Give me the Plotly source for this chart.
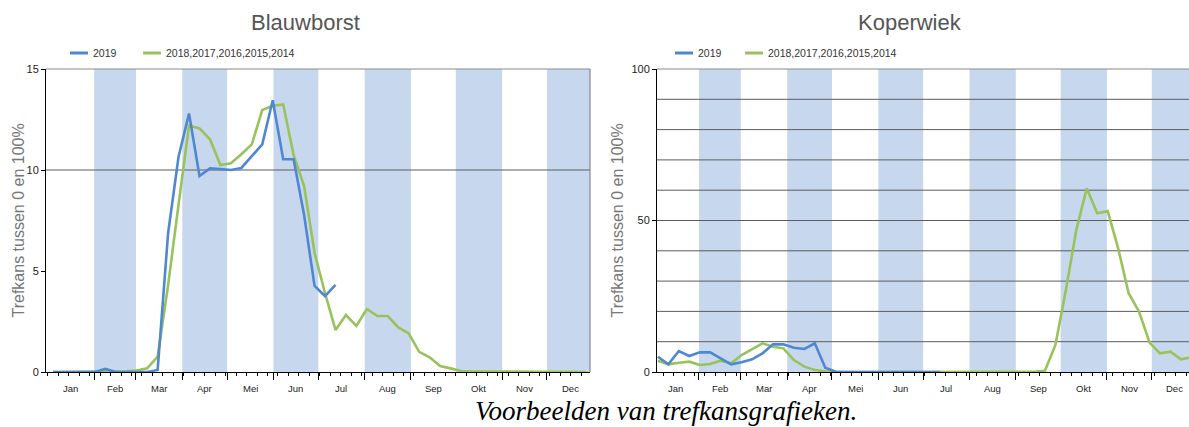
import plotly.graph_objects as go

# ---------------- data ----------------
weeks = list(range(1, 53))  # week numbers
months = ["Jan", "Feb", "Mar", "Apr", "Mei", "Jun", "Jul", "Aug", "Sep", "Okt", "Nov", "Dec"]
month_days = [31, 28, 31, 30, 31, 30, 31, 31, 30, 31, 30, 31]

series_names = ["2019", "2018,2017,2016,2015,2014"]

blauwborst_2019 = [0, 0, 0, 0, 0, 0.15, 0, 0, 0, 0, 0.1, 6.87, 10.66, 12.8, 9.7, 10.08, 10.05,
                   10.0, 10.1, 10.66, 11.27, 13.45, 10.53, 10.53, 7.77, 4.26, 3.76, 4.31]
blauwborst_prev = [0, 0, 0, 0, 0, 0.02, 0.03, 0.03, 0.07, 0.18, 0.76, 4.3, 8.3, 12.2, 12.06, 11.52,
                   10.25, 10.33, 10.78, 11.27, 12.97, 13.18, 13.25, 10.74, 9.2, 5.9, 3.9, 2.08, 2.82,
                   2.28, 3.12, 2.77, 2.77, 2.21, 1.91, 1.0, 0.73, 0.3, 0.18, 0.05, 0.03, 0.03, 0.03,
                   0.02, 0, 0, 0, 0, 0, 0, 0, 0]

koperwiek_2019 = [5.05, 2.54, 6.93, 5.28, 6.49, 6.49, 4.51, 2.54, 3.2, 4.18, 6.16, 9.13, 9.13, 8.03,
                  7.59, 9.46, 1.43, 0.1, 0, 0, 0, 0, 0, 0, 0, 0, 0, 0]
koperwiek_prev = [3.74, 2.54, 3.08, 3.41, 2.31, 2.64, 3.74, 2.86, 5.61, 7.48, 9.46, 8.36, 7.81, 3.96,
                  1.76, 0.66, 0.2, 0.05, 0, 0, 0, 0, 0, 0, 0, 0, 0, 0, 0, 0, 0, 0, 0, 0, 0, 0,
                  0.1, 0.43, 8.91, 27.0, 46.9, 60.6, 52.4, 53.1, 40.8, 26.0, 19.9, 9.68, 6.16,
                  6.71, 4.18, 4.84]

titles = ["Blauwborst", "Koperwiek"]
y_title = "Trefkans tussen 0 en 100%"
caption = "Voorbeelden van trefkansgrafieken."

# ---------------- derived scale helpers ----------------
month_bounds = [0]
for d in month_days:
    month_bounds.append(month_bounds[-1] + d)
month_centers = [(month_bounds[i] + month_bounds[i + 1]) / 2 for i in range(12)]
week_bounds = [7 * i for i in range(53)]


def week_to_day(w):
    return (w - 1) * 7 + 3.5


W, H = 1189, 427
BLUE = "#4f87d0"
GREEN = "#98c25a"
BAND = "#c7d8ee"
GRID = "#5c5c5c"
FRAME = "#8a8a8a"
SANS = "Liberation Sans, Arial, sans-serif"


def px(x):
    return x / W


def py(y):
    return 1 - y / H


fig = go.Figure()

charts = [
    dict(s2019=blauwborst_2019, sprev=blauwborst_prev, xa="x", ya="y",
         dom=[46, 590], xr=[-1.2, 362.8], yr=[0, 15], yt=[0, 5, 10, 15], grid=[10],
         title_x=305, leg=[70, 143], ytitle_x=18),
    dict(s2019=koperwiek_2019, sprev=koperwiek_prev, xa="x2", ya="y2",
         dom=[657, 1189], xr=[2.9, 358.9], yr=[0, 100], yt=[0, 50, 100],
         grid=[10, 20, 30, 40, 50, 60, 70, 80, 90],
         title_x=910, leg=[675, 745], ytitle_x=617),
]

shapes = []
annotations = []
y_dom = [py(372), py(69)]

for ci, c in enumerate(charts):
    x19 = [week_to_day(w) for w in weeks[:len(c["s2019"])]]
    xpv = [week_to_day(w) for w in weeks[:len(c["sprev"])]]
    fig.add_trace(go.Scatter(x=xpv, y=c["sprev"], mode="lines", name=series_names[1],
                             line=dict(color=GREEN, width=2.6), xaxis=c["xa"], yaxis=c["ya"],
                             showlegend=False))
    fig.add_trace(go.Scatter(x=x19, y=c["s2019"], mode="lines", name=series_names[0],
                             line=dict(color=BLUE, width=2.6), xaxis=c["xa"], yaxis=c["ya"],
                             showlegend=False))

    xkey = "xaxis" if ci == 0 else "xaxis2"
    ykey = "yaxis" if ci == 0 else "yaxis2"
    fig.update_layout(**{
        xkey: dict(domain=[px(c["dom"][0]), px(c["dom"][1])], range=c["xr"], anchor=c["ya"],
                   showline=True, linecolor="black", linewidth=1, showgrid=False, zeroline=False,
                   ticks="outside", tickvals=month_bounds, ticktext=[""] * len(month_bounds),
                   ticklen=7, tickcolor="black", tickwidth=1, automargin=False,
                   minor=dict(tickvals=week_bounds, ticklen=3, tickcolor="black", tickwidth=1,
                              ticks="outside", showgrid=False)),
        ykey: dict(domain=y_dom, range=c["yr"], anchor=c["xa"], tickvals=c["yt"],
                   showline=True, linecolor="black", linewidth=1, showgrid=False, zeroline=False,
                   ticks="outside", ticklen=4, tickcolor="black", automargin=False,
                   tickfont=dict(family=SANS, size=11, color="#222")),
    })

    # y-axis title
    annotations.append(dict(text=y_title, x=px(c["ytitle_x"]), y=(y_dom[0] + y_dom[1]) / 2,
                            xref="paper", yref="paper", textangle=-90, showarrow=False,
                            xanchor="center", yanchor="middle",
                            font=dict(family=SANS, size=16, color="#777")))

    # alternating month bands
    for mi in range(1, 12, 2):
        shapes.append(dict(type="rect", xref=c["xa"], yref=c["ya"] + " domain",
                           x0=month_bounds[mi], x1=month_bounds[mi + 1], y0=0, y1=1,
                           fillcolor=BAND, line=dict(width=0), layer="below"))
    # horizontal grid lines
    for g in c["grid"]:
        shapes.append(dict(type="line", xref=c["xa"] + " domain", yref=c["ya"],
                           x0=0, x1=1, y0=g, y1=g, line=dict(color=GRID, width=1), layer="below"))
    # frame (top / right)
    shapes.append(dict(type="line", xref=c["xa"] + " domain", yref=c["ya"] + " domain",
                       x0=0, x1=1, y0=1, y1=1, line=dict(color=FRAME, width=1.2), layer="below"))
    if ci == 0:
        shapes.append(dict(type="line", xref=c["xa"] + " domain", yref=c["ya"] + " domain",
                           x0=1, x1=1, y0=0, y1=1, line=dict(color=FRAME, width=1.2), layer="below"))

    # month labels
    for m, mc in zip(months, month_centers):
        if c["xr"][0] <= mc <= c["xr"][1]:
            annotations.append(dict(text=m, x=mc, xref=c["xa"], y=py(388), yref="paper",
                                    showarrow=False, xanchor="center", yanchor="middle",
                                    font=dict(family=SANS, size=9.5, color="#222")))

    # chart title
    annotations.append(dict(text=titles[ci], x=px(c["title_x"]), y=py(22), xref="paper", yref="paper",
                            showarrow=False, xanchor="center", yanchor="middle",
                            font=dict(family=SANS, size=22, color="#555")))

    # legend
    for li, (col, name) in enumerate(zip([BLUE, GREEN], series_names)):
        lx = c["leg"][li]
        shapes.append(dict(type="line", xref="paper", yref="paper", x0=px(lx), x1=px(lx + 18),
                           y0=py(53), y1=py(53), line=dict(color=col, width=3)))
        annotations.append(dict(text=name, x=px(lx + 21), y=py(53), xref="paper", yref="paper",
                                showarrow=False, xanchor="left", yanchor="middle",
                                font=dict(family=SANS, size=10.5, color="#333")))

annotations.append(dict(text=caption, x=px(666), y=py(411), xref="paper", yref="paper",
                        showarrow=False, xanchor="center", yanchor="middle",
                        font=dict(family="Liberation Serif, Times New Roman, serif", size=27,
                                  color="black", style="italic")))

fig.update_layout(width=W, height=H, margin=dict(l=0, r=0, t=0, b=0, pad=0, autoexpand=False),
                  paper_bgcolor="white", plot_bgcolor="white",
                  shapes=shapes, annotations=annotations, showlegend=False)

fig.write_html(
    "out.html",
    config={"displayModeBar": False},
    post_script=(
        "document.documentElement.style.margin='0';"
        "document.documentElement.style.overflow='hidden';"
        "document.body.style.margin='0';"
        "document.body.style.overflow='hidden';"
        "var d=document.getElementById('{plot_id}');"
        "d.style.position='fixed';d.style.left='0px';d.style.top='0px';"
    ),
)
